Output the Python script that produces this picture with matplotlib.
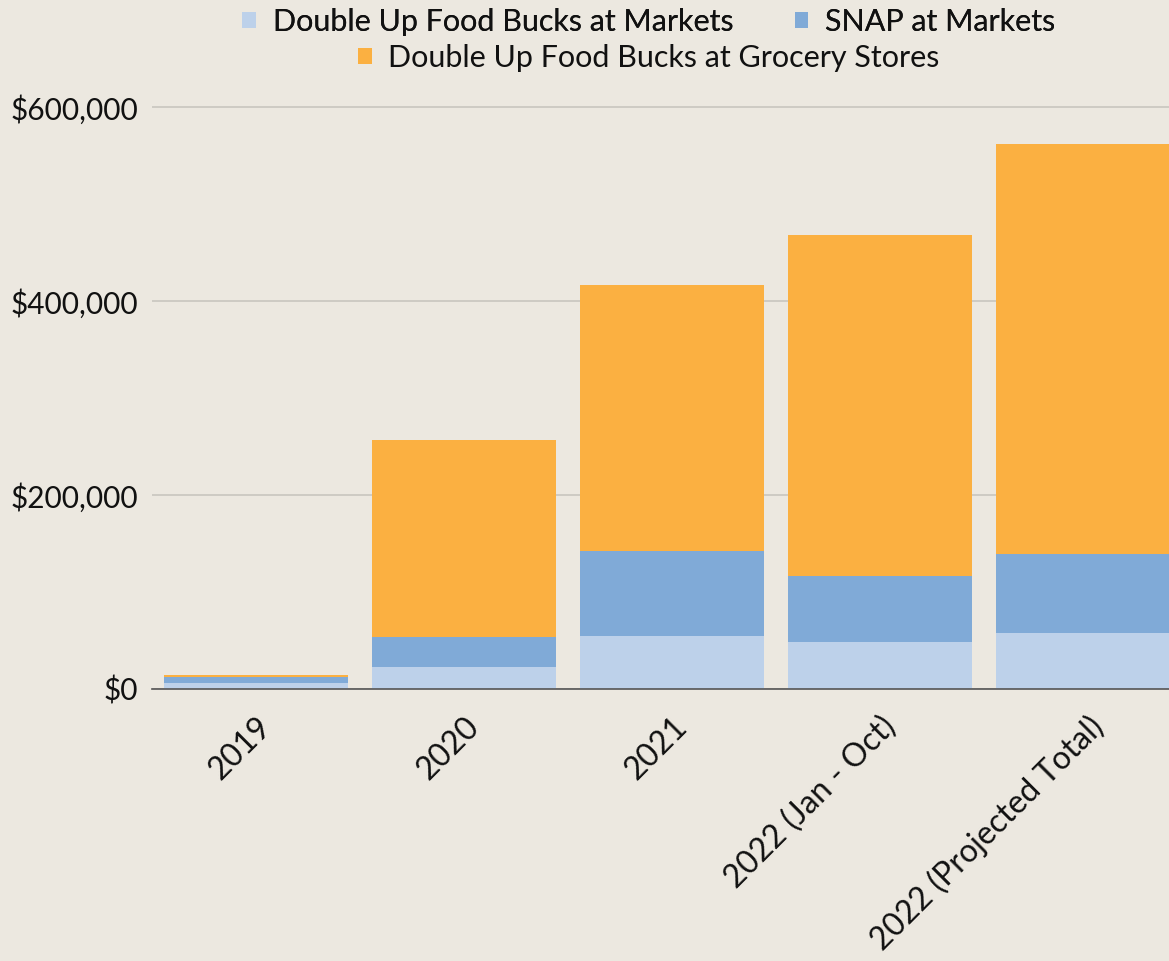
import matplotlib
matplotlib.use("Agg")
import numpy as np
from matplotlib import pyplot as plt
from matplotlib.patches import Patch
from matplotlib.ticker import FuncFormatter

categories = ["2019", "2020", "2021", "2022 (Jan - Oct)", "2022 (Projected Total)"]
duf_markets = [6000, 22700, 54600, 48500, 57700]
snap_markets = [6400, 30900, 87700, 68000, 81500]
duf_grocery = [2000, 203100, 274200, 351500, 422700]
series_names = [
    "Double Up Food Bucks at Markets",
    "SNAP at Markets",
    "Double Up Food Bucks at Grocery Stores",
]
y_ticks = [0, 200000, 400000, 600000]

BG = "#ece8e0"
COLORS = ["#bdd1ea", "#80aad7", "#fbb041"]

plt.rcParams["font.family"] = ["Lato", "DejaVu Sans"]

fig = plt.figure(figsize=(11.69, 9.61), dpi=100, facecolor=BG)
ax = fig.add_axes([152 / 1169, 1 - 689 / 961, 1040 / 1169, 0.6258])
ax.set_facecolor(BG)

x = np.arange(len(categories))
bottom = np.zeros(len(categories))
handles = []
for values, color, name in zip([duf_markets, snap_markets, duf_grocery], COLORS, series_names):
    ax.bar(x, values, width=0.88, bottom=bottom, color=color, zorder=3)
    bottom += np.asarray(values)
    handles.append(Patch(facecolor=color, label=name))

ax.set_xlim(-0.5, len(categories) - 0.5)
ax.set_ylim(0, 620000)
ax.set_yticks(y_ticks)
ax.yaxis.set_major_formatter(FuncFormatter(lambda v, _: f"${v:,.0f}"))
ax.grid(axis="y", color="#c9c6bf", linewidth=1.2, zorder=0)
for side in ["top", "right", "left"]:
    ax.spines[side].set_visible(False)
ax.spines["bottom"].set_color("#555555")
ax.spines["bottom"].set_linewidth(1.2)
ax.spines["bottom"].set_zorder(4)
ax.tick_params(axis="y", length=0, pad=10, labelsize=21.5, labelcolor="#111111")
ax.tick_params(axis="x", length=0, pad=16, labelsize=23, labelcolor="#111111")
ax.set_xticks(x)
ax.set_xticklabels(categories, rotation=45, ha="right", rotation_mode="anchor")
for lbl in ax.get_xticklabels():
    lbl.set_x(lbl.get_position()[0] + 0.08)

leg_kw = dict(frameon=False, fontsize=22, handlelength=0.45, handleheight=0.45,
              handletextpad=0.55, labelcolor="#111111")
leg1 = fig.legend(handles=handles[:2], loc="center", bbox_to_anchor=(0.555, 1 - 22 / 961),
                  ncol=2, columnspacing=2.0, **leg_kw)
fig.add_artist(leg1)
fig.legend(handles=handles[2:], loc="center", bbox_to_anchor=(0.555, 1 - 58 / 961), **leg_kw)

fig.savefig("out.png", dpi=100, facecolor=BG)
